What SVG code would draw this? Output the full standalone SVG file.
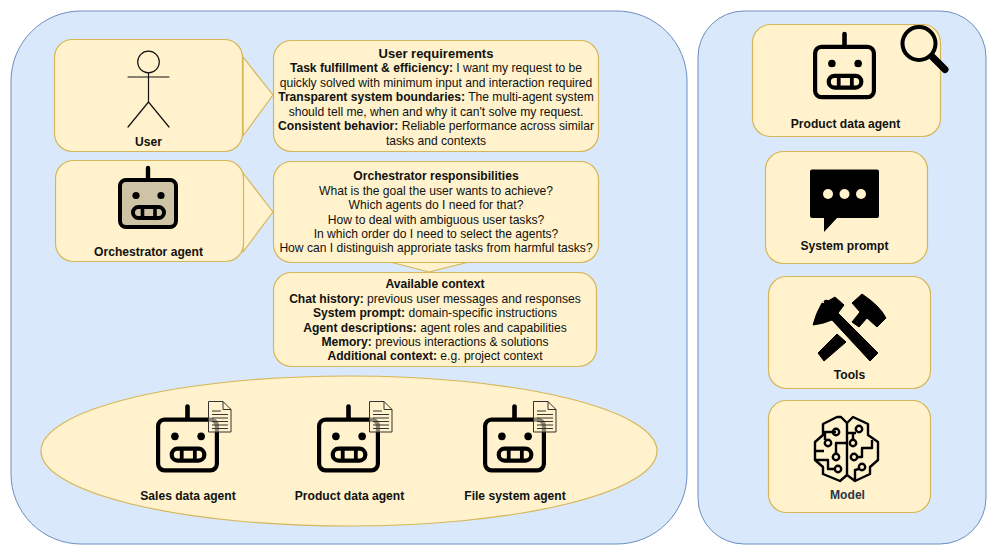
<svg xmlns="http://www.w3.org/2000/svg" width="996" height="556" viewBox="0 0 996 556">
<style>
.panel{fill:#dae8fc;stroke:#6c8ebf;stroke-width:1}
.box{fill:#fff2cc;stroke:#d6b656;stroke-width:1.2}
.tip{fill:#fff2cc;stroke:#d6b656;stroke-width:1.2;stroke-linejoin:round}
text{font-family:"Liberation Sans",Arial,sans-serif;font-size:12.1px;fill:#111;text-anchor:middle}
.b{font-weight:700}
.h{font-weight:700;font-size:12.1px}
.lab{font-weight:700;font-size:12.1px}
.line{fill:none;stroke:#111;stroke-width:1.2;stroke-linecap:round;stroke-linejoin:round}
</style>
<defs>
<g id="robot">
<path d="M30 1V12" fill="none" stroke="#000" stroke-width="4.4" stroke-linecap="round"/>
<rect x="2" y="13" width="56" height="47" rx="6" fill="var(--robot,none)" stroke="#000" stroke-width="4"/>
<circle cx="18" cy="28.500" r="3.600"/><circle cx="43" cy="28.500" r="3.600"/>
<rect x="15" y="40" width="31" height="11" rx="5.500" fill="none" stroke="#000" stroke-width="4"/>
<path d="M24.500 40V51M37 40V51" stroke="#000" stroke-width="3.600"/>
</g>
<g id="doc">
<path d="M0.500 0.500H15L23 8.500V31H0.500Z" fill="#fff2cc" fill-opacity=".55" stroke="#333" stroke-width="1"/>
<path d="M15 0.500V8.500H23" fill="none" stroke="#333" stroke-width="1"/>
<path d="M4 10H13M4 13.500H20M4 17H20M4 20.500H20M4 24H20M4 27.500H20" stroke="#333" stroke-width="1"/>
</g>
</defs>

<rect id="panel-left" class="panel" x="11" y="11" width="676" height="533" rx="70"/>
<rect id="panel-right" class="panel" x="698" y="11" width="288" height="533" rx="46"/>

<g id="connectors">
<path class="tip" d="M243 57L273 95L243 136Z"/>
<path class="tip" d="M243 173L273 212L243 252Z"/>
<path class="tip" d="M390 262L429 272L469 262Z"/>
</g>

<g id="user">
<rect class="box" x="54.500" y="39.500" width="188" height="112" rx="18"/>
<circle cx="148.500" cy="62" r="10.800" fill="none" stroke="#111" stroke-width="1.200"/>
<path class="line" d="M148.500 73V102M128 77H169M148.500 102L128 127M148.500 102L169 127"/>
<text class="lab" x="148.500" y="146">User</text>
</g>

<g id="orchestrator-agent">
<rect class="box" x="55.500" y="160.500" width="188" height="101" rx="18"/>
<use href="#robot" x="118" y="167" style="--robot:#cfc3a5"/>
<text class="lab" x="148.500" y="256">Orchestrator agent</text>
</g>

<g id="user-requirements">
<rect class="box" x="273.500" y="40.500" width="325" height="111" rx="18"/>
<text class="h" x="436" y="58" style="font-size:13px">User requirements</text>
<text x="436" y="72"><tspan class="b">Task fulfillment &amp; efficiency:</tspan> I want my request to be</text>
<text x="436" y="87">quickly solved with minimum input and interaction required</text>
<text x="436" y="101"><tspan class="b">Transparent system boundaries:</tspan> The multi-agent system</text>
<text x="436" y="116">should tell me, when and why it can't solve my request.</text>
<text x="436" y="130"><tspan class="b">Consistent behavior:</tspan> Reliable performance across similar</text>
<text x="436" y="145">tasks and contexts</text>
</g>

<g id="orchestrator-responsibilities">
<rect class="box" x="273.500" y="161.500" width="325" height="101" rx="18"/>
<text class="h" x="436" y="180">Orchestrator responsibilities</text>
<text x="436" y="195">What is the goal the user wants to achieve?</text>
<text x="436" y="209">Which agents do I need for that?</text>
<text x="436" y="224">How to deal with ambiguous user tasks?</text>
<text x="436" y="238">In which order do I need to select the agents?</text>
<text x="436" y="252">How can I distinguish approriate tasks from harmful tasks?</text>
</g>

<g id="available-context">
<rect class="box" x="273.500" y="272.500" width="323" height="94" rx="18"/>
<text class="h" x="435" y="288">Available context</text>
<text x="435" y="303"><tspan class="b">Chat history:</tspan> previous user messages and responses</text>
<text x="435" y="317"><tspan class="b">System prompt:</tspan> domain-specific instructions</text>
<text x="435" y="332"><tspan class="b">Agent descriptions:</tspan> agent roles and capabilities</text>
<text x="435" y="346"><tspan class="b">Memory:</tspan> previous interactions &amp; solutions</text>
<text x="435" y="360"><tspan class="b">Additional context:</tspan> e.g. project context</text>
</g>

<g id="agent-pool">
<ellipse class="box" cx="349" cy="451" rx="308" ry="75"/>
<use href="#robot" transform="translate(156 405.500) scale(1.05 1.08)"/>
<use href="#doc" x="208" y="401"/>
<text class="lab" x="188" y="500">Sales data agent</text>
<use href="#robot" transform="translate(317 405.500) scale(1.05 1.08)"/>
<use href="#doc" x="369" y="401"/>
<text class="lab" x="349.500" y="500">Product data agent</text>
<use href="#robot" transform="translate(483 405.500) scale(1.05 1.08)"/>
<use href="#doc" x="533" y="401"/>
<text class="lab" x="515" y="500">File system agent</text>
</g>

<g id="product-data-agent">
<rect class="box" x="752.500" y="24.500" width="188" height="112" rx="18"/>
<use href="#robot" transform="translate(813 33) scale(1.05 1.07)"/>
<circle cx="919" cy="43.500" r="16.500" fill="none" stroke="#000" stroke-width="4"/>
<path d="M932 56.500L945 69.500" stroke="#000" stroke-width="7" stroke-linecap="round"/>
<text class="lab" x="845.500" y="128">Product data agent</text>
</g>

<g id="system-prompt">
<rect class="box" x="765.500" y="151.500" width="162" height="112" rx="18"/>
<path d="M812 169.500H877Q879 169.500 879 171.500V216Q879 218 877 218H837L824 232V218H812Q810 218 810 216V171.500Q810 169.500 812 169.500Z" fill="#000"/>
<circle cx="828" cy="194" r="5" fill="#fff2cc"/><circle cx="844.500" cy="194" r="5" fill="#fff2cc"/><circle cx="861" cy="194" r="5" fill="#fff2cc"/>
<text class="lab" x="844.500" y="250">System prompt</text>
</g>

<g id="tools">
<rect class="box" x="768.500" y="276.500" width="162" height="112" rx="18"/>
<path d="M835 297L844 305L838 313L878 353L870 361L832 320Q823 324 813 325Q816 313 822 303L825 304L824 301L827 300L828 301Z" fill="#000" stroke="#000" stroke-linejoin="round"/>
<path d="M862 294L852 303L860 312L852 322L859 327L867 318L877 327L886 318Q880 306 862 294Z" fill="#000" stroke="#000" stroke-linejoin="round"/>
<path d="M837 334L846 342L824 361L818 353Z" fill="#000" stroke="#000" stroke-linejoin="round"/>
<text class="lab" x="849.500" y="379">Tools</text>
</g>

<g id="model">
<rect class="box" x="768.500" y="400.500" width="162" height="112" rx="18"/>
<g fill="none" stroke="#000" stroke-width="2.400" stroke-linejoin="round">
<path d="M847 423L841 417H837L823 424V435L815 442V460L823 467V474L840 481L847 475L855 481L870 474V467L878 460V442L868 435V424L853 417L847 423V475"/>
<path d="M836 432H825V440M815 451H824M847 443H836V454M815 460H828V469H835M847 433H856M853 433V440M857 457H862V448H872V440M855 481V470L859 469"/>
<circle cx="836" cy="432" r="3.200"/><circle cx="828" cy="443" r="3.200"/><circle cx="836" cy="457" r="3.200"/><circle cx="838" cy="469" r="3.200"/>
<circle cx="859" cy="429" r="3.200"/><circle cx="853" cy="443" r="3.200"/><circle cx="854" cy="457" r="3.200"/><circle cx="862" cy="467" r="3.200"/>
</g>
<text class="lab" x="847.500" y="499" style="fill:#2b3548">Model</text>
</g>
</svg>
